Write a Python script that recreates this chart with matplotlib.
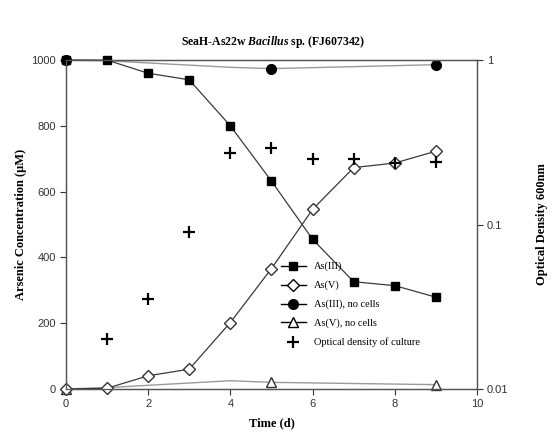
import matplotlib.pyplot as plt
from matplotlib.lines import Line2D

plt.rcParams['font.family'] = ['Liberation Sans', 'DejaVu Sans']
plt.rcParams['mathtext.fontset'] = 'custom'
plt.rcParams['mathtext.rm'] = 'Liberation Serif:bold'
plt.rcParams['mathtext.bfit'] = 'Liberation Serif:italic:bold'
plt.rcParams['mathtext.it'] = 'Liberation Serif:italic:bold'

days = [0, 1, 2, 3, 4, 5, 6, 7, 8, 9]
as3 = [1000, 1000, 960, 940, 800, 632, 455, 326, 314, 279]
as5 = [0, 2, 40, 60, 202, 366, 546, 673, 687, 723]

nc_days = [0, 1, 4, 5, 9]
as3_nocells = [1000, 998, 978, 974, 986]
as5_nocells = [0, 4, 25, 20, 13]

od_days = [1, 2, 3, 4, 5, 6, 7, 8, 9]
od = [0.020, 0.035, 0.090, 0.271, 0.290, 0.249, 0.249, 0.238, 0.241]

serif = 'Liberation Serif'
line_col = '#3a3a3a'
grey = '#9a9a9a'

fig = plt.figure(figsize=(5.58, 4.45), dpi=100)
ax = fig.add_axes([0.118, 0.126, 0.737, 0.739])
ax2 = ax.twinx()

ax.plot(nc_days, as3_nocells, color=grey, lw=1, marker='o', ms=7,
        mfc='black', mec='black', markevery=[0, 3, 4], zorder=2, clip_on=False)
ax.plot(nc_days, as5_nocells, color=grey, lw=1, marker='^', ms=7,
        mfc='white', mec='#333333', markevery=[0, 3, 4], zorder=2, clip_on=False)
ax.plot(days, as3, color=line_col, lw=0.9, marker='s', ms=6,
        mfc='black', mec='black', zorder=3, clip_on=False)
ax.plot(days, as5, color=line_col, lw=0.9, marker='D', ms=6.5,
        mfc='white', mec='#333333', zorder=3, clip_on=False)

ax2.plot(od_days, od, ls='none', marker='+', ms=9, mew=1.6, color='black')
ax2.set_yscale('log')
ax2.set_ylim(0.01, 1)

ax.set_xlim(0, 10)
ax.set_ylim(0, 1000)
ax.set_xticks([0, 2, 4, 6, 8, 10])
ax.set_yticks([0, 200, 400, 600, 800, 1000])
ax2.set_yticks([0.01, 0.1, 1])
ax2.set_yticklabels(['0.01', '0.1', '1'])
ax2.minorticks_off()

for a in (ax, ax2):
    a.tick_params(labelsize=8, colors='#333333', length=4, width=0.8, pad=3)
    for s in a.spines.values():
        s.set_color('#555555')
        s.set_linewidth(0.9)

ax.set_xlabel('Time (d)', fontfamily=serif, fontweight='bold', fontsize=9, labelpad=6)
ax.set_ylabel('Arsenic Concentration (\u03bcM)', fontfamily=serif,
              fontweight='bold', fontsize=9, labelpad=3)
ax2.set_ylabel('Optical Density 600nm', fontfamily=serif,
               fontweight='bold', fontsize=9, labelpad=20)

fig.text(0.49, 0.905, r'SeaH-As22w $\mathbfit{Bacillus}$ sp. (FJ607342)',
         ha='center', va='center', fontfamily=serif, fontweight='bold', fontsize=8.5)

handles = [
    Line2D([], [], color='black', lw=1, marker='s', ms=6, mfc='black'),
    Line2D([], [], color='black', lw=1, marker='D', ms=6.5, mfc='white'),
    Line2D([], [], color='black', lw=1, marker='o', ms=7, mfc='black'),
    Line2D([], [], color='black', lw=1, marker='^', ms=7, mfc='white'),
    Line2D([], [], ls='none', marker='+', ms=9, mew=1.6, color='black'),
]
labels = ['As(III)', 'As(V)', 'As(III), no cells', 'As(V), no cells',
          'Optical density of culture']
leg = ax2.legend(handles, labels, loc='upper left', bbox_to_anchor=(0.5, 0.415),
                 frameon=False, prop={'family': serif, 'size': 7.5},
                 handlelength=2.4, labelspacing=0.9, handletextpad=0.8)

fig.savefig('out.png', dpi=100)
